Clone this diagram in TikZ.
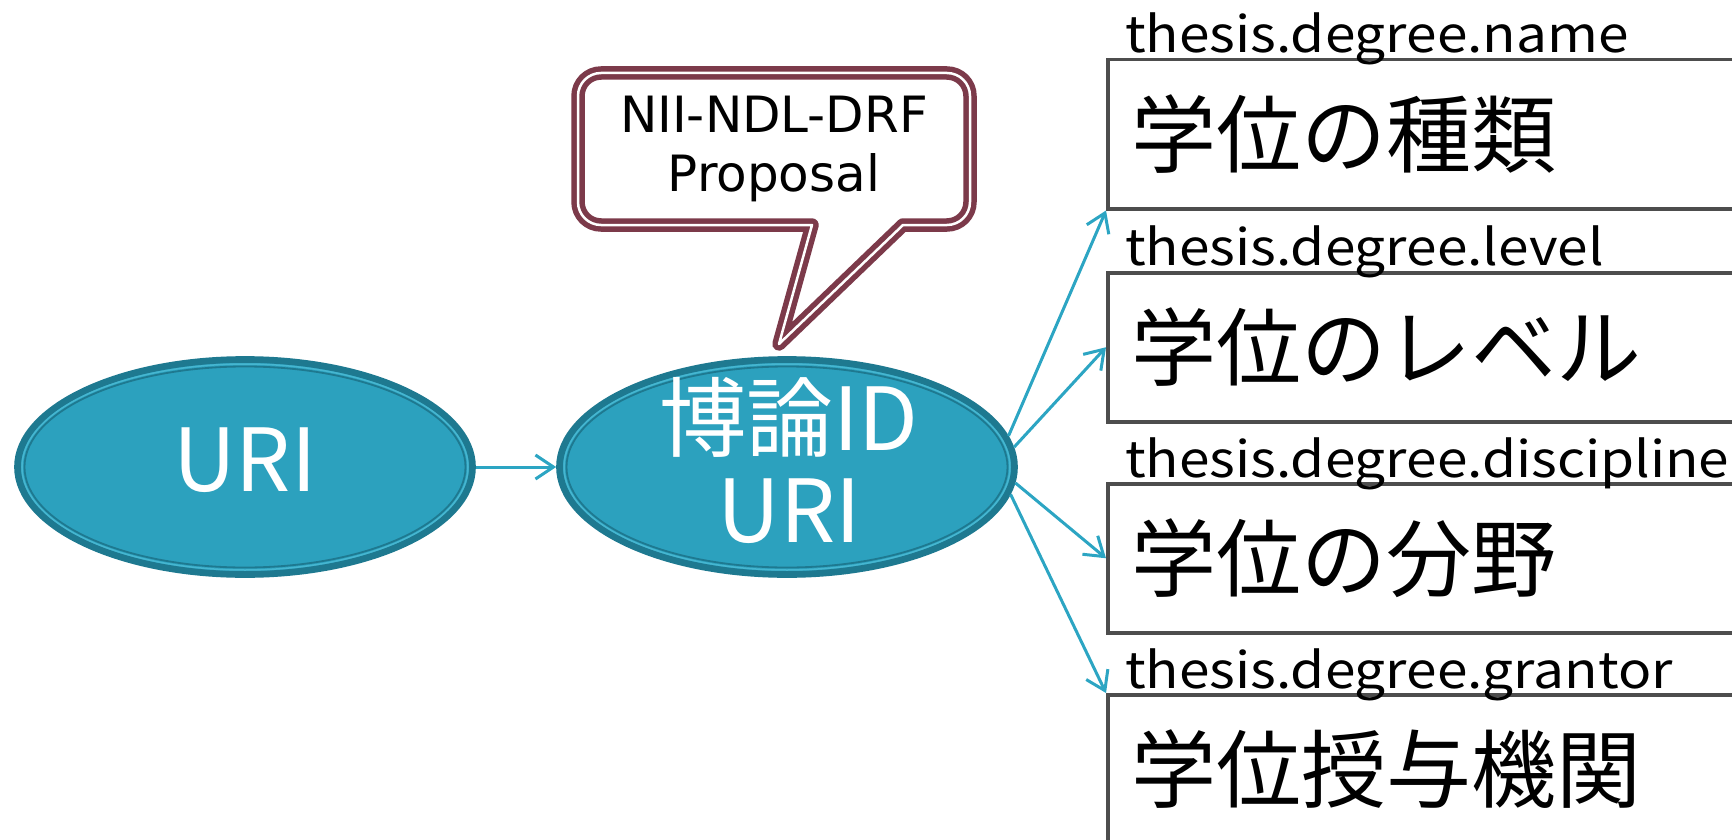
\documentclass[tikz,border=0pt]{standalone}
\usepackage{fontspec}
\setmainfont{Noto Sans CJK JP}
\newfontfamily\jpfont{Noto Sans CJK JP}
\newfontfamily\lblfont[FakeStretch=1.1]{Noto Sans CJK JP}
\newfontfamily\calloutfont{DejaVu Sans}
\usetikzlibrary{shapes.geometric,arrows.meta}
\definecolor{tealfill}{RGB}{44,161,190}
\definecolor{tealdark}{RGB}{30,121,144}
\definecolor{teallight}{RGB}{70,182,208}
\definecolor{tealline}{RGB}{44,165,195}
\definecolor{calloutred}{RGB}{124,58,74}
\definecolor{boxgray}{RGB}{77,77,77}
\begin{document}
\begin{tikzpicture}[x=1pt,y=-1pt,
  ell/.style={ellipse, fill=tealfill, draw=tealdark, line width=6.7pt,
    minimum width=455pt, minimum height=215pt, inner sep=0pt},
  ellinner/.style={draw=tealdark, line width=1.8pt},
  elllight/.style={draw=teallight, line width=1.5pt},
  elltext/.style={text=white, font=\jpfont\fontsize{87}{92}\selectfont,
    inner sep=0pt, anchor=base},
  conn/.style={draw=tealline, line width=3pt,
    -{Straight Barb[length=18pt,width=24pt]}},
  databox/.style={draw=boxgray, line width=3.5pt, anchor=north west,
    minimum height=149pt, text width=612pt, align=left, inner xsep=24pt,
    inner ysep=0pt, font=\jpfont\fontsize{85}{85}\selectfont},
  lbl/.style={anchor=base west, inner sep=0pt,
    font=\lblfont\fontsize{50}{50}\selectfont},
  callout/.style={draw=calloutred, line width=5.5pt, double=white,
    double distance=2.5pt, fill=white, line join=round},
  calltext/.style={anchor=base, inner sep=0pt,
    font=\calloutfont\fontsize{50}{50}\selectfont}
]
\clip (0,0) rectangle (1732,840);
\fill[white] (0,0) rectangle (1732,840);

% callout
\draw[callout] (812,225) -- (601,225)
  .. controls (588.3,225) and (578,214.7) .. (578,202) -- (578,96)
  .. controls (578,83.3) and (588.3,73) .. (601,73) -- (947,73)
  .. controls (959.7,73) and (970,83.3) .. (970,96) -- (970,202)
  .. controls (970,214.7) and (959.7,225) .. (947,225)
  -- (903,225) -- (779,344) -- cycle;
\node[calltext] (c1) at (774,133) {NII-NDL-DRF};
\node[calltext] (c2) at (774,191) {Proposal};

% ellipses
\node[ell] (e1) at (245,467) {};
\draw[elllight] (e1.center) ellipse[x radius=223, y radius=103];
\draw[ellinner] (e1.center) ellipse[x radius=220.5, y radius=100.5];
\node[elltext] (t1) at (245,491) {URI};

\node[ell] (e2) at (787,467) {};
\draw[elllight] (e2.center) ellipse[x radius=223, y radius=103];
\draw[ellinner] (e2.center) ellipse[x radius=220.5, y radius=100.5];
\node[elltext] (t2) at (789,450) {博論ID};
\node[elltext] (t3) at (789,542) {URI};

% boxes
\node[databox] (b1) at (1106,58) {学位の種類};
\node[databox] (b2) at (1106,271) {学位のレベル};
\node[databox] (b3) at (1106,482) {学位の分野};
\node[databox] (b4) at (1106,693) {学位授与機関};

\node[lbl] (l1) at (1125,53) {thesis.degree.name};
\node[lbl] (l2) at (1125,265) {thesis.degree.level};
\node[lbl] (l3) at (1125,477) {thesis.degree.discipline};
\node[lbl] (l4) at (1125,688) {thesis.degree.grantor};

% connectors
\draw[conn] (e1.east) -- (e2.west);
\draw[conn] (e2.8.5) -- (b1.south west);
\draw[conn] (e2.5.7) -- (b2.west);
\draw[conn] (e2.-4.7) -- (b3.west);
\draw[conn] (e2.-7.4) -- (b4.north west);
\end{tikzpicture}
\end{document}
